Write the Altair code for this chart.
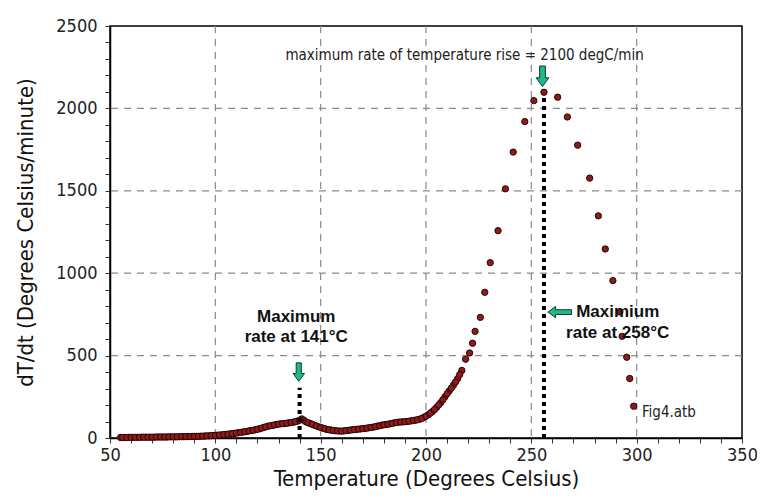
import altair as alt
import pandas as pd

# ---- data ----
odd_x = [55, 57, 59, 61, 63, 65, 67, 69, 71, 73, 75, 77, 79, 81, 83, 85, 87, 89, 91, 93, 95, 97, 99,
         101, 103, 105, 107, 109, 111, 113, 115, 117, 119, 121, 123, 125, 127, 129, 131, 133, 135,
         137, 139, 141, 142, 143, 145, 147, 149, 151, 153, 155, 157, 159, 161, 163, 165, 167, 169,
         171, 173, 175, 177, 179, 181, 183, 185, 187, 189, 191, 193, 195, 197, 199, 201, 203, 205,
         207, 209, 211, 213, 215, 217]
odd_y = [3, 3, 4, 4, 4, 5, 5, 5, 5, 6, 6, 6, 7, 7, 8, 8, 9, 9, 10, 11, 12, 13, 15,
         17, 19, 22, 25, 28, 32, 36, 40, 45, 50, 56, 64, 72, 76, 82, 86, 88, 92,
         96, 102, 116, 108, 98, 88, 78, 68, 60, 52, 48, 44, 42, 43, 46, 50, 52, 55,
         58, 62, 66, 72, 78, 82, 86, 92, 96, 98, 100, 104, 108, 114, 125, 140, 160, 185,
         215, 250, 285, 320, 360, 410]
even_x = [56, 58, 60, 62, 64, 66, 68, 70, 72, 74, 76, 78, 80, 82, 84, 86, 88, 90, 92, 94, 96, 98,
          100, 102, 104, 106, 108, 110, 112, 114, 116, 118, 120, 122, 124, 126, 128, 130, 132, 134,
          136, 138, 140, 144, 146, 148, 150, 152, 154, 156, 158, 160, 162, 164, 166, 168, 170, 172,
          174, 176, 178, 180, 182, 184, 186, 188, 190, 192, 194, 196, 198, 200, 202, 204, 206, 208,
          210, 212, 214, 216]
even_y = [3, 3, 4, 4, 4, 5, 5, 5, 6, 6, 6, 7, 7, 7, 8, 8, 9, 10, 10, 11, 13, 14,
          16, 18, 21, 23, 27, 30, 34, 38, 43, 47, 53, 60, 68, 74, 79, 84, 87, 90,
          94, 99, 108, 93, 83, 73, 64, 56, 50, 46, 43, 42, 45, 48, 51, 54, 57, 60,
          64, 69, 75, 80, 84, 89, 94, 97, 99, 102, 106, 111, 119, 132, 150, 172, 200, 232,
          268, 302, 340, 385]
sparse_x = [218.8, 220.7, 222.1, 223.3, 225.8, 227.9, 230.5, 234.2, 237.7, 241.4, 246.9, 251.2,
            256.0, 262.5, 267.1, 272.0, 277.7, 281.8, 285.1, 288.7, 292.0, 293.1, 295.3, 296.7, 298.6]
sparse_y = [478, 516, 575, 647, 732, 884, 1064, 1258, 1512, 1735, 1920, 2047,
            2098, 2068, 1948, 1777, 1577, 1348, 1147, 955, 765, 617, 490, 361, 193]

x_grid = [100, 150, 200, 250, 300]
y_grid = [500, 1000, 1500, 2000]
x_ticks = list(range(50, 351, 10))
y_ticks = list(range(0, 2501, 100))

peak_lines_x = [140, 256]
peak_lines_top = [305, 2075]

label_text = ["Maximum", "rate at 141°C", "Maximium", "rate at 258°C"]
label_x = [138.4, 138.4, 291, 291]
label_y = [733, 612, 764, 640]

arrow_x = [139.6, 255.3, 263.5]
arrow_y = [400, 2195, 764]
arrow_shape = [
    "M-0.28,-1L0.28,-1L0.28,0.15L0.62,0.15L0,1L-0.62,0.15L-0.28,0.15Z",
    "M-0.28,-1L0.28,-1L0.28,0.15L0.62,0.15L0,1L-0.62,0.15L-0.28,0.15Z",
    "M1,-0.2L1,0.2L-0.35,0.2L-0.35,0.48L-1,0L-0.35,-0.48L-0.35,-0.2Z",
]
arrow_size = [340, 420, 560]

FONT = "Liberation Sans Narrow, DejaVu Sans Condensed, sans-serif"

pts = pd.DataFrame({"T": odd_x + even_x + sparse_x, "R": odd_y + even_y + sparse_y})

xs = alt.Scale(domain=[50, 350], nice=False, zero=False)
ys = alt.Scale(domain=[0, 2500], nice=False)

x_axis = alt.Axis(values=x_ticks, grid=False, format="d",
                  labelExpr="datum.value % 50 == 0 ? datum.label : ''",
                  title="Temperature (Degrees Celsius)", labelFontSize=18, titleFontSize=22,
                  labelFont=FONT, titleFont=FONT, titleFontWeight="normal", labelColor="#222",
                  titleColor="#111", tickColor="#333", tickSize=5, labelPadding=3,
                  labelFlush=False, labelOverlap=False, domainColor="black", domainWidth=1.5,
                  titlePadding=4)
y_axis = alt.Axis(values=y_ticks, grid=False, format="d",
                  labelExpr="datum.value % 500 == 0 ? datum.label : ''",
                  title="dT/dt (Degrees Celsius/minute)", labelFontSize=18, titleFontSize=22,
                  labelFont=FONT, titleFont=FONT, titleFontWeight="normal", labelColor="#222",
                  titleColor="#111", tickColor="#333", tickSize=5, labelPadding=8,
                  labelFlush=False, labelOverlap=False, domainColor="black", domainWidth=1.5,
                  titlePadding=18)

gx = alt.Chart(pd.DataFrame({"g": x_grid})).mark_rule(
    color="#8a8a8a", strokeDash=[7, 6], strokeWidth=1.2
).encode(x=alt.X("g:Q", scale=xs, axis=x_axis))
gy = alt.Chart(pd.DataFrame({"g": y_grid})).mark_rule(
    color="#8a8a8a", strokeDash=[7, 6], strokeWidth=1.2
).encode(y=alt.Y("g:Q", scale=ys, axis=y_axis))

points = alt.Chart(pts).mark_point(
    filled=True, fill="#8e1b1b", stroke="#2a0505", strokeWidth=1, size=40, opacity=1
).encode(x=alt.X("T:Q", scale=xs, axis=x_axis), y=alt.Y("R:Q", scale=ys, axis=y_axis))

lines = alt.Chart(pd.DataFrame({"x": peak_lines_x, "y0": [0, 0], "y1": peak_lines_top})).mark_rule(
    color="black", strokeWidth=4, strokeDash=[4, 4]
).encode(x=alt.X("x:Q", scale=xs, axis=x_axis), y=alt.Y("y0:Q", scale=ys, axis=y_axis), y2="y1:Q")

arrows = alt.Chart(pd.DataFrame({"x": arrow_x, "y": arrow_y, "s": arrow_shape, "z": arrow_size})).mark_point(
    filled=True, fill="#1fb98c", stroke="#0b3b2c", strokeWidth=1, opacity=1
).encode(x=alt.X("x:Q", scale=xs, axis=x_axis), y=alt.Y("y:Q", scale=ys, axis=y_axis),
         shape=alt.Shape("s:N", scale=None), size=alt.Size("z:Q", scale=None))

labels = alt.Chart(pd.DataFrame({"t": label_text, "x": label_x, "y": label_y})).mark_text(
    font="Liberation Sans, Arial, sans-serif", fontSize=17, fontWeight="bold", color="#111",
    align="center", baseline="middle"
).encode(x=alt.X("x:Q", scale=xs, axis=x_axis), y=alt.Y("y:Q", scale=ys, axis=y_axis), text="t:N")

top_note = alt.Chart(pd.DataFrame({"t": ["maximum rate of temperature rise = 2100 degC/min"],
                                   "x": [218.3], "y": [2324]})).mark_text(
    font=FONT, fontSize=15, color="#222", align="center", baseline="middle"
).encode(x=alt.X("x:Q", scale=xs, axis=x_axis), y=alt.Y("y:Q", scale=ys, axis=y_axis), text="t:N")

fig_note = alt.Chart(pd.DataFrame({"t": ["Fig4.atb"], "x": [302.5], "y": [155]})).mark_text(
    font=FONT, fontSize=15, color="#222", align="left", baseline="middle"
).encode(x=alt.X("x:Q", scale=xs, axis=x_axis), y=alt.Y("y:Q", scale=ys, axis=y_axis), text="t:N")

chart = alt.layer(gx, gy, points, lines, arrows, labels, top_note, fig_note).properties(
    width=632, height=412,
    autosize=alt.AutoSizeParams(type="none"),
    padding={"left": 102, "top": 18, "right": 15, "bottom": 55},
    background="white",
).configure_view(stroke="black", strokeWidth=1.5).configure_axis(labelOverlap=False)

chart.save("out.html", embed_options={"renderer": "svg", "actions": False})
